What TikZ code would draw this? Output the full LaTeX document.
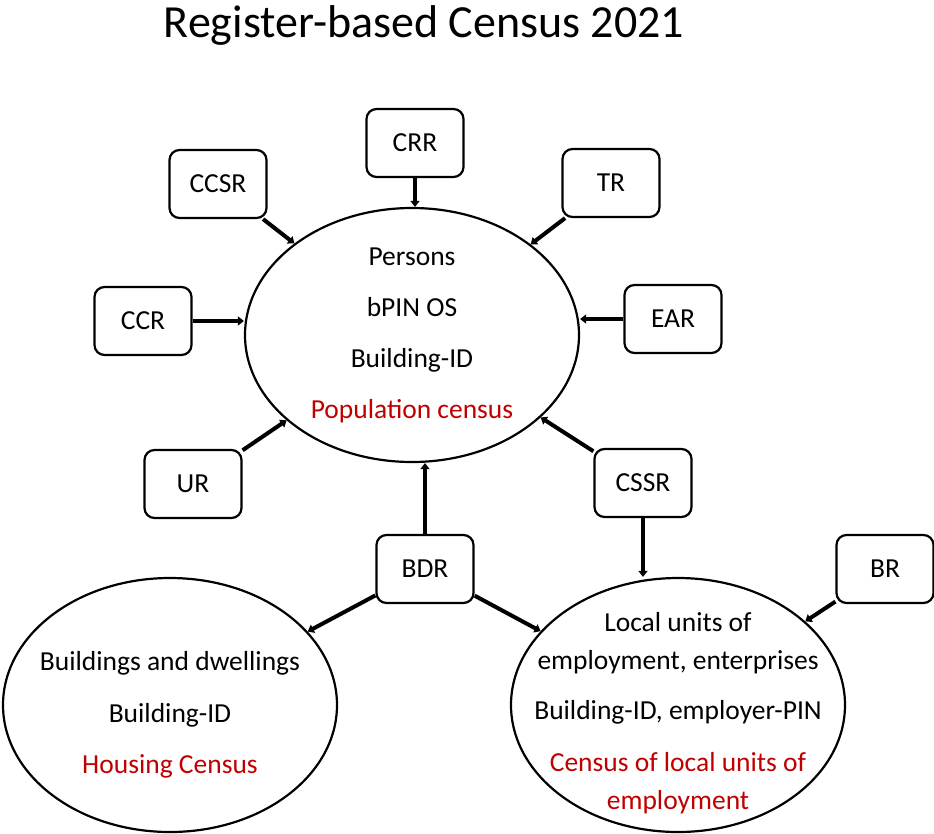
\documentclass[tikz,border=0pt]{standalone}
\usepackage{fontspec}
\setmainfont{Carlito}
\usepackage{xcolor}
\usepackage{tikz}
\usetikzlibrary{arrows.meta,shapes}
\definecolor{censusred}{RGB}{192,0,0}

\begin{document}
\begin{tikzpicture}[x=1pt,y=-1pt,
        register/.style={draw, line width=2.2pt, rounded corners=10pt, minimum width=97pt, minimum height=68pt, font=\fontsize{27.5}{33}\selectfont},
        census/.style={draw, ellipse, line width=2.2pt, minimum width=334pt, minimum height=254pt, inner sep=0pt},
        ctext/.style={align=center, font=\fontsize{27.5}{38}\selectfont},
        feed/.style={line width=4pt, -{Triangle[length=6pt,width=9pt]}}]
        \useasboundingbox (0,0) rectangle (934,833);
        \node[anchor=base, font=\fontsize{46}{50}\selectfont] (title) at (424,37) {Register-based Census 2021};
        %the three censuses
        \node[census, label={[ctext]center:{Persons\\[13pt] bPIN OS\\[13pt] Building-ID\\[13pt] \color{censusred}Population census}}] (pop) at (412,335) {};
        \node[census, label={[ctext,yshift=-10pt]center:{Buildings and dwellings\\[14pt] Building-ID\\[13pt] \color{censusred}Housing Census}}] (house) at (170,705) {};
        \node[census, label={[ctext,yshift=-8pt]center:{Local units of\\ employment, enterprises\\[12pt] Building-ID, employer-PIN\\[14pt] \color{censusred}Census of local units of\\ \color{censusred}employment}}] (loc) at (678,705) {};
        \node[register] (crr) at (415,143) {CRR};
        \node[register] (ccsr) at (218,184) {CCSR};
        \node[register] (tr) at (611,183) {TR};
        \node[register] (ccr) at (143,321) {CCR};
        \node[register] (ear) at (673,319) {EAR};
        \node[register] (ur) at (193,484) {UR};
        \node[register] (cssr) at (643,483) {CSSR};
        \node[register] (bdr) at (425,569) {BDR};
        \node[register] (br) at (885,569) {BR};
        \draw[feed] (crr) -- (crr |- pop.north);
        \draw[feed] (ccsr) -- (pop);
        \draw[feed] (tr) -- (pop);
        \draw[feed] (ccr) -- (ccr -| pop.west);
        \draw[feed] (ear) -- (ear -| pop.east);
        \draw[feed] (ur) -- (pop);
        \draw[feed] (cssr) -- (pop);
        \draw[feed] (cssr) -- (cssr |- loc.north);
        \draw[feed] (bdr) -- (bdr |- pop.south);
        \draw[feed] (bdr) -- (house);
        \draw[feed] (bdr) -- (loc);
        \draw[feed] (br) -- (loc);
\end{tikzpicture}
\end{document}
